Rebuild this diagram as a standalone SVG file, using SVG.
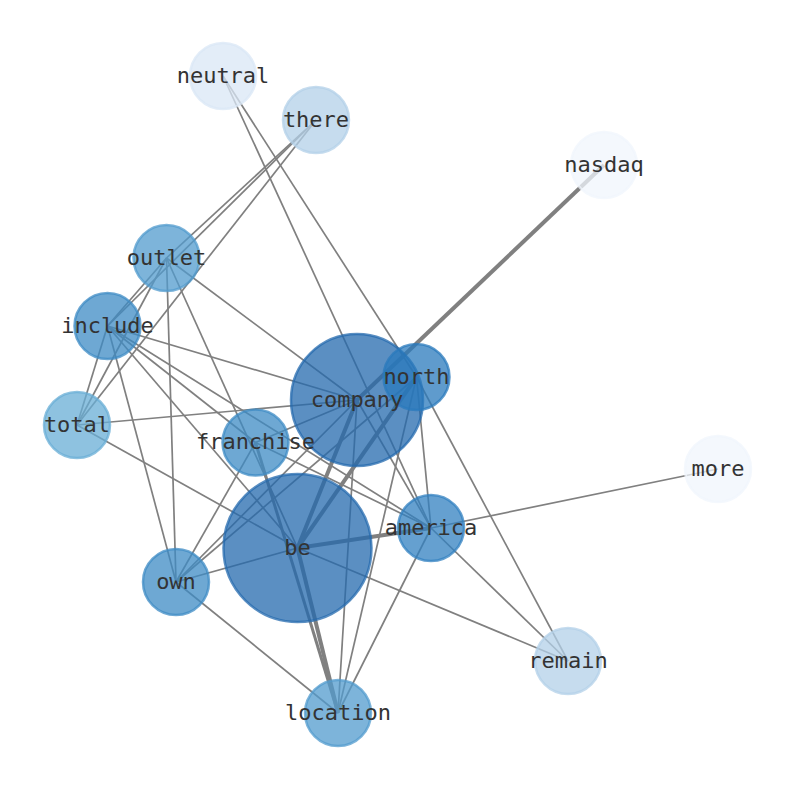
<svg xmlns="http://www.w3.org/2000/svg" width="794" height="790" viewBox="0 0 794 790">
<style>
.e{stroke:#808080;stroke-width:1.7;fill:none;stroke-linecap:butt}
.w3{stroke-width:3}
.w4{stroke-width:4}
.n{fill-opacity:0.75;stroke-opacity:0.75;stroke-width:2.5}
.lbl{font-family:"DejaVu Sans Mono","Liberation Mono",monospace;font-size:22px;fill:#333;text-anchor:middle}
</style>
<rect width="794" height="790" fill="#fff"/>
<g id="edges">
<line class="e" x1="223" y1="76" x2="416.5" y2="377"/>
<line class="e" x1="223" y1="76" x2="431" y2="528"/>
<line class="e" x1="316" y1="120" x2="166.5" y2="258"/>
<line class="e" x1="316" y1="120" x2="107.5" y2="326"/>
<line class="e" x1="316" y1="120" x2="77" y2="425"/>
<line class="e w4" x1="604" y1="165" x2="357" y2="400"/>
<line class="e" x1="166.5" y1="258" x2="107.5" y2="326"/>
<line class="e" x1="166.5" y1="258" x2="77" y2="425"/>
<line class="e" x1="166.5" y1="258" x2="176" y2="582"/>
<line class="e" x1="166.5" y1="258" x2="297.5" y2="548"/>
<line class="e" x1="166.5" y1="258" x2="357" y2="400"/>
<line class="e" x1="107.5" y1="326" x2="77" y2="425"/>
<line class="e" x1="107.5" y1="326" x2="357" y2="400"/>
<line class="e" x1="107.5" y1="326" x2="255.5" y2="442.5"/>
<line class="e" x1="107.5" y1="326" x2="431" y2="528"/>
<line class="e" x1="107.5" y1="326" x2="176" y2="582"/>
<line class="e" x1="107.5" y1="326" x2="297.5" y2="548"/>
<line class="e" x1="77" y1="425" x2="357" y2="400"/>
<line class="e" x1="77" y1="425" x2="297.5" y2="548"/>
<line class="e" x1="255.5" y1="442.5" x2="357" y2="400"/>
<line class="e w3" x1="255.5" y1="442.5" x2="338" y2="713"/>
<line class="e" x1="255.5" y1="442.5" x2="176" y2="582"/>
<line class="e" x1="255.5" y1="442.5" x2="431" y2="528"/>
<line class="e w4" x1="357" y1="400" x2="297.5" y2="548"/>
<line class="e" x1="357" y1="400" x2="431" y2="528"/>
<line class="e" x1="357" y1="400" x2="338" y2="713"/>
<line class="e" x1="357" y1="400" x2="176" y2="582"/>
<line class="e w4" x1="416.5" y1="377" x2="297.5" y2="548"/>
<line class="e" x1="416.5" y1="377" x2="431" y2="528"/>
<line class="e" x1="416.5" y1="377" x2="338" y2="713"/>
<line class="e" x1="416.5" y1="377" x2="176" y2="582"/>
<line class="e" x1="416.5" y1="377" x2="568" y2="661"/>
<line class="e w4" x1="431" y1="528" x2="297.5" y2="548"/>
<line class="e" x1="431" y1="528" x2="338" y2="713"/>
<line class="e" x1="431" y1="528" x2="718" y2="469"/>
<line class="e" x1="431" y1="528" x2="568" y2="661"/>
<line class="e" x1="297.5" y1="548" x2="568" y2="661"/>
<line class="e" x1="297.5" y1="548" x2="176" y2="582"/>
<line class="e w4" x1="297.5" y1="548" x2="338" y2="713"/>
<line class="e" x1="176" y1="582" x2="338" y2="713"/>
</g>
<g id="nodes">
<g id="node-neutral"><circle class="n" cx="223" cy="76" r="33" fill="#dae7f6" stroke="#dae7f6"/></g>
<g id="node-there"><circle class="n" cx="316" cy="120" r="33" fill="#b3d0e8" stroke="#b3d0e8"/></g>
<g id="node-nasdaq"><circle class="n" cx="604" cy="165" r="33" fill="#f0f6fc" stroke="#f0f6fc"/></g>
<g id="node-outlet"><circle class="n" cx="166.5" cy="258" r="33" fill="#529bce" stroke="#529bce"/></g>
<g id="node-include"><circle class="n" cx="107.5" cy="326" r="33" fill="#3e8bc4" stroke="#3e8bc4"/></g>
<g id="node-total"><circle class="n" cx="77" cy="425" r="33" fill="#68aed6" stroke="#68aed6"/></g>
<g id="node-franchise"><circle class="n" cx="255.5" cy="442.5" r="33" fill="#3e8bc4" stroke="#3e8bc4"/></g>
<g id="node-company"><circle class="n" cx="357" cy="400" r="66" fill="#246aae" stroke="#246aae"/></g>
<g id="node-north"><circle class="n" cx="416.5" cy="377" r="33" fill="#2a7abc" stroke="#2a7abc"/></g>
<g id="node-more"><circle class="n" cx="718" cy="469" r="33" fill="#f0f6fc" stroke="#f0f6fc"/></g>
<g id="node-america"><circle class="n" cx="431" cy="528" r="33" fill="#3280c0" stroke="#3280c0"/></g>
<g id="node-be"><circle class="n" cx="297.5" cy="548" r="74" fill="#246aae" stroke="#246aae"/></g>
<g id="node-own"><circle class="n" cx="176" cy="582" r="33" fill="#3e8bc4" stroke="#3e8bc4"/></g>
<g id="node-remain"><circle class="n" cx="568" cy="661" r="33" fill="#b3d0e8" stroke="#b3d0e8"/></g>
<g id="node-location"><circle class="n" cx="338" cy="713" r="33" fill="#529bce" stroke="#529bce"/></g>
</g>
<g id="labels">
<text class="lbl" x="223" y="82.5">neutral</text>
<text class="lbl" x="316" y="126.5">there</text>
<text class="lbl" x="604" y="171.5">nasdaq</text>
<text class="lbl" x="166.5" y="264.5">outlet</text>
<text class="lbl" x="107.5" y="332.5">include</text>
<text class="lbl" x="77" y="431.5">total</text>
<text class="lbl" x="255.5" y="449">franchise</text>
<text class="lbl" x="357" y="406.5">company</text>
<text class="lbl" x="416.5" y="383.5">north</text>
<text class="lbl" x="718" y="475.5">more</text>
<text class="lbl" x="431" y="534.5">america</text>
<text class="lbl" x="297.5" y="554.5">be</text>
<text class="lbl" x="176" y="588.5">own</text>
<text class="lbl" x="568" y="667.5">remain</text>
<text class="lbl" x="338" y="719.5">location</text>
</g>
</svg>
